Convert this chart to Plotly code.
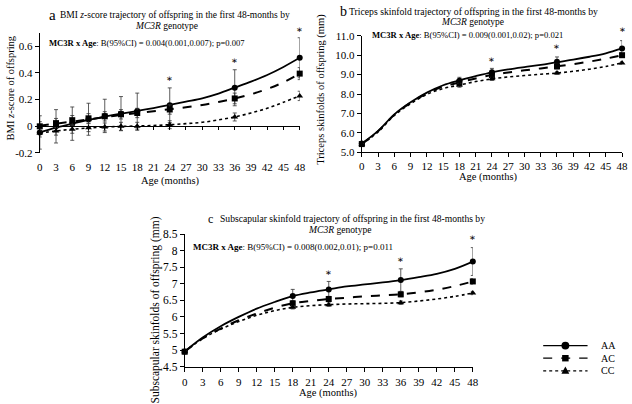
import plotly.graph_objects as go

W, H = 632, 404
FONT = "Liberation Serif"

# ---------------- data ----------------
obs_a = [0, 3, 6, 9, 12, 15, 18, 24, 36, 48]
aa_a = [-0.046, 0.0, 0.02, 0.053, 0.078, 0.095, 0.114, 0.158, 0.289, 0.514]
ac_a = [0.0, 0.024, 0.046, 0.06, 0.075, 0.09, 0.10, 0.126, 0.209, 0.395]
cc_a = [-0.05, -0.036, -0.022, -0.01, -0.005, 0.0, 0.0, 0.012, 0.07, 0.228]
aa_a_err = [0.125, 0.125, 0.125, 0.12, 0.125, 0.128, 0.135, 0.13, 0.135, 0.15]
ac_a_err = [0.035, 0.035, 0.035, 0.035, 0.035, 0.035, 0.035, 0.035, 0.04, 0.045]
cc_a_err = [0.03, 0.03, 0.03, 0.03, 0.03, 0.03, 0.03, 0.03, 0.03, 0.035]

obs_bc = [0, 18, 24, 36, 48]
aa_b = [5.45, 8.68, 9.12, 9.66, 10.35]
ac_b = [5.42, 8.58, 8.98, 9.42, 10.0]
cc_b = [5.40, 8.45, 8.78, 9.08, 9.6]
aa_b_err = [0.05, 0.18, 0.2, 0.25, 0.4]
ac_b_err = [0.05, 0.12, 0.12, 0.12, 0.12]
cc_b_err = [0.05, 0.1, 0.08, 0.06, 0.06]

aa_c = [4.96, 6.63, 6.83, 7.11, 7.67]
ac_c = [4.95, 6.41, 6.54, 6.68, 7.07]
cc_c = [4.95, 6.29, 6.37, 6.43, 6.72]
aa_c_err = [0.05, 0.2, 0.24, 0.34, 0.42]
ac_c_err = [0.04, 0.08, 0.08, 0.07, 0.08]
cc_c_err = [0.03, 0.05, 0.05, 0.05, 0.05]

# fitted trajectories read every 3 months
ages_fit = [0, 3, 6, 9, 12, 15, 18, 21, 24, 27, 30, 33, 36, 39, 42, 45, 48]
fit_aa_a = [-0.045, -0.01, 0.02, 0.048, 0.073, 0.095, 0.115, 0.137, 0.16, 0.185, 0.21, 0.245, 0.29, 0.335, 0.385, 0.445, 0.514]
fit_ac_a = [0.005, 0.02, 0.035, 0.052, 0.068, 0.085, 0.10, 0.113, 0.128, 0.143, 0.16, 0.183, 0.209, 0.24, 0.28, 0.33, 0.395]
fit_cc_a = [-0.05, -0.035, -0.022, -0.012, -0.005, -0.001, 0.002, 0.006, 0.012, 0.02, 0.03, 0.048, 0.07, 0.10, 0.135, 0.18, 0.228]

fit_aa_b = [5.45, 6.1, 6.95, 7.57, 8.07, 8.45, 8.7, 8.92, 9.12, 9.27, 9.39, 9.5, 9.64, 9.77, 9.92, 10.1, 10.35]
fit_ac_b = [5.42, 6.08, 6.93, 7.55, 8.03, 8.38, 8.6, 8.8, 8.98, 9.11, 9.22, 9.32, 9.43, 9.54, 9.67, 9.82, 10.0]
fit_cc_b = [5.40, 6.05, 6.9, 7.5, 7.98, 8.28, 8.46, 8.64, 8.78, 8.88, 8.95, 9.02, 9.08, 9.17, 9.28, 9.42, 9.6]

fit_aa_c = [4.96, 5.38, 5.72, 6.0, 6.25, 6.45, 6.63, 6.74, 6.83, 6.92, 6.98, 7.04, 7.11, 7.2, 7.3, 7.45, 7.67]
fit_ac_c = [4.95, 5.35, 5.65, 5.9, 6.1, 6.28, 6.41, 6.48, 6.54, 6.58, 6.62, 6.65, 6.68, 6.74, 6.82, 6.93, 7.07]
fit_cc_c = [4.95, 5.35, 5.63, 5.86, 6.05, 6.19, 6.29, 6.34, 6.37, 6.39, 6.40, 6.41, 6.43, 6.48, 6.54, 6.62, 6.72]

star_x = [24, 36, 48]
star_a = [0.356, 0.49, 0.727]
star_b = [9.78, 10.45, 11.3]
star_c = [7.33, 7.74, 8.38]

x_ticks = list(range(0, 49, 3))
groups = ["AA", "AC", "CC"]
x_range = [0, 48]

# ---------------- helpers ----------------
def px(x):
    return x / W

def py(y):
    return 1 - y / H

dashes = {"AA": "solid", "AC": "dash", "CC": "dot"}
symbols = {"AA": "circle", "AC": "square", "CC": "triangle-up"}
widths = {"AA": 1.8, "AC": 2.0, "CC": 1.6}

tickfont = dict(family=FONT, size=11, color="black")
dom_a_x = [px(37.3), px(301)]
dom_a_y = [py(151.5), py(27.75)]
dom_b_x = [px(364), px(628)]
dom_b_y = [py(150.7), py(30.7)]
dom_c_x = [px(184.3), px(476.6)]
dom_c_y = [py(371.7), py(235)]
rng_a = [-0.2, 0.7]
rng_b = [5, 11]
rng_c = [4.5, 8.5]

fig = go.Figure()
ann = []

def to_paper(v, rng, dom):
    return dom[0] + (v - rng[0]) / (rng[1] - rng[0]) * (dom[1] - dom[0])

def add_panel(xa, ya, obs, vals, errs, fits, stars, domx, domy, rngy):
    for g, v, e, f in zip(groups, vals, errs, fits):
        fig.add_trace(go.Scatter(
            x=ages_fit, y=f, mode="lines", line=dict(color="black", width=widths[g], dash=dashes[g], shape="spline"),
            xaxis=xa, yaxis=ya, showlegend=False, hoverinfo="skip"))
        fig.add_trace(go.Scatter(
            x=obs, y=v, mode="markers",
            marker=dict(symbol=symbols[g], size=6, color="black"),
            error_y=dict(type="data", array=e, visible=True, color="#333", thickness=0.8, width=2),
            xaxis=xa, yaxis=ya, showlegend=False, cliponaxis=False))
    # significance asterisks, mapped through the panel's axis scales
    for sx, sy in zip(star_x, stars):
        ann.append(dict(x=to_paper(sx, x_range, domx), y=to_paper(sy, rngy, domy),
                        xref="paper", yref="paper", text="\u2217", showarrow=False,
                        xanchor="center", yanchor="middle", borderpad=0,
                        font=dict(family="DejaVu Serif", size=10, color="black")))

add_panel("x", "y", obs_a, [aa_a, ac_a, cc_a], [aa_a_err, ac_a_err, cc_a_err],
          [fit_aa_a, fit_ac_a, fit_cc_a], star_a, dom_a_x, dom_a_y, rng_a)
add_panel("x2", "y2", obs_bc, [aa_b, ac_b, cc_b], [aa_b_err, ac_b_err, cc_b_err],
          [fit_aa_b, fit_ac_b, fit_cc_b], star_b, dom_b_x, dom_b_y, rng_b)
add_panel("x3", "y3", obs_bc, [aa_c, ac_c, cc_c], [aa_c_err, ac_c_err, cc_c_err],
          [fit_aa_c, fit_ac_c, fit_cc_c], star_c, dom_c_x, dom_c_y, rng_c)

# invisible trace to realise the y=0 axis of panel a
fig.add_trace(go.Scatter(x=[None], y=[None], xaxis="x4", yaxis="y", showlegend=False))

zero_pos = to_paper(0, rng_a, dom_a_y)

common_x = dict(range=x_range, tickvals=x_ticks, tickfont=tickfont, showgrid=False, zeroline=False,
                showline=True, linecolor="black", linewidth=1, ticks="outside", ticklen=4, tickcolor="black")
common_y = dict(tickfont=tickfont, showgrid=False, zeroline=False, showline=True, linecolor="black",
                linewidth=1, ticks="outside", ticklen=4, tickcolor="black")

fig.update_layout(
    width=W, height=H, margin=dict(l=0, r=0, t=0, b=0),
    paper_bgcolor="white", plot_bgcolor="white",
    font=dict(family=FONT, color="black"),
    showlegend=False,
    xaxis=dict(common_x, domain=dom_a_x, anchor="y", showline=False, tickcolor="rgba(0,0,0,0)"),
    yaxis=dict(common_y, domain=dom_a_y, range=rng_a, tickvals=[-0.2, 0, 0.2, 0.4, 0.6],
               ticktext=["-0.2", "0", "0.2", "0.4", "0.6"], anchor="x"),
    xaxis4=dict(common_x, domain=dom_a_x, anchor="free", position=zero_pos, overlaying="x",
                showticklabels=False, ticklen=3),
    xaxis2=dict(common_x, domain=dom_b_x, anchor="y2"),
    yaxis2=dict(common_y, domain=dom_b_y, range=rng_b, tickvals=[5, 6, 7, 8, 9, 10, 11],
                ticktext=["5.0", "6.0", "7.0", "8.0", "9.0", "10.0", "11.0"], anchor="x2"),
    xaxis3=dict(common_x, domain=dom_c_x, anchor="y3", ticklabelstandoff=1),
    yaxis3=dict(common_y, domain=dom_c_y, range=rng_c, tickvals=[4.5, 5, 5.5, 6, 6.5, 7, 7.5, 8, 8.5],
                ticktext=["4.5", "5", "5.5", "6", "6.5", "7", "7.5", "8", "8.5"], anchor="x3",
                tickfont=dict(family=FONT, size=11.5, color="black")),
)

def text(x, y, s, size, xanchor="center", angle=0):
    ann.append(dict(x=px(x), y=py(y), xref="paper", yref="paper", text=s, showarrow=False,
                    xanchor=xanchor, yanchor="middle", textangle=angle, borderpad=0,
                    font=dict(family=FONT, size=size, color="black")))

# panel titles
text(50, 9.5, "a", 15)
text(57, 9.5, "BMI <i>z</i>-score trajectory of offspring in the first 48-months by", 9.5, xanchor="left")
text(166, 20.5, "<i>MC3R</i> genotype", 9.5)
text(345, 6, "b", 14)
text(350, 6, "Triceps skinfold trajectory of offspring in the first 48-months by", 9.7, xanchor="left")
text(476, 17, "<i>MC3R</i> genotype", 9.5)
text(210, 219.5, "c", 12)
text(219, 219.5, "Subscapular skinfold trajectory of offspring in the first 48-months by", 9.6, xanchor="left")
text(342, 230, "<i>MC3R</i> genotype", 9.6)

# interaction notes
text(46, 38, "<b>MC3R x Age</b>: B(95%CI) = 0.004(0.001,0.007); p=0.007", 8.6, xanchor="left")
text(373, 30, "<b>MC3R x Age</b>: B(95%CI) = 0.009(0.001,0.02); p=0.021", 8.6, xanchor="left")
text(192, 248, "<b>MC3R x Age</b>: B(95%CI) = 0.008(0.002,0.01); p=0.011", 9, xanchor="left")

# axis titles
text(8, 84, "BMI <i>z</i>-score of offspring", 10.5, angle=-90)
text(170, 180, "Age (months)", 10.5)
text(323, 86, "Triceps skinfolds of offspring (mm)", 10.5, angle=-90)
text(493, 176, "Age (months)", 10.5)
text(155, 313, "Subscapular skinfolds of offspring (mm)", 11.5, angle=-90)
text(330, 398.5, "Age (months)", 10.5)

# custom legend (key drawn in layout)
shapes = []
leg_rows = {"AA": 350, "AC": 363, "CC": 376}
lx0, lx1, lxm = 548, 593, 570.5
for g in groups:
    yy = leg_rows[g]
    shapes.append(dict(type="line", xref="paper", yref="paper", x0=px(lx0), x1=px(lx1), y0=py(yy), y1=py(yy),
                       line=dict(color="black", width=1.3, dash=dashes[g])))
    if g == "AA":
        r = 4
        shapes.append(dict(type="circle", xref="paper", yref="paper", x0=px(lxm - r), x1=px(lxm + r),
                           y0=py(yy + r), y1=py(yy - r), fillcolor="black", line=dict(width=0)))
    elif g == "AC":
        r = 3.3
        shapes.append(dict(type="rect", xref="paper", yref="paper", x0=px(lxm - r), x1=px(lxm + r),
                           y0=py(yy + r), y1=py(yy - r), fillcolor="black", line=dict(width=0)))
    else:
        r = 4
        path = "M {},{} L {},{} L {},{} Z".format(px(lxm - r), py(yy + 3), px(lxm + r), py(yy + 3),
                                                   px(lxm), py(yy - 4.5))
        shapes.append(dict(type="path", xref="paper", yref="paper", path=path, fillcolor="black",
                           line=dict(width=0)))
    text(606, yy, g, 10, xanchor="left")

fig.update_layout(annotations=ann, shapes=shapes)
fig.write_html("out.html", config={"displayModeBar": False},
               post_script="document.body.style.margin='0';document.body.style.overflow='hidden';")
